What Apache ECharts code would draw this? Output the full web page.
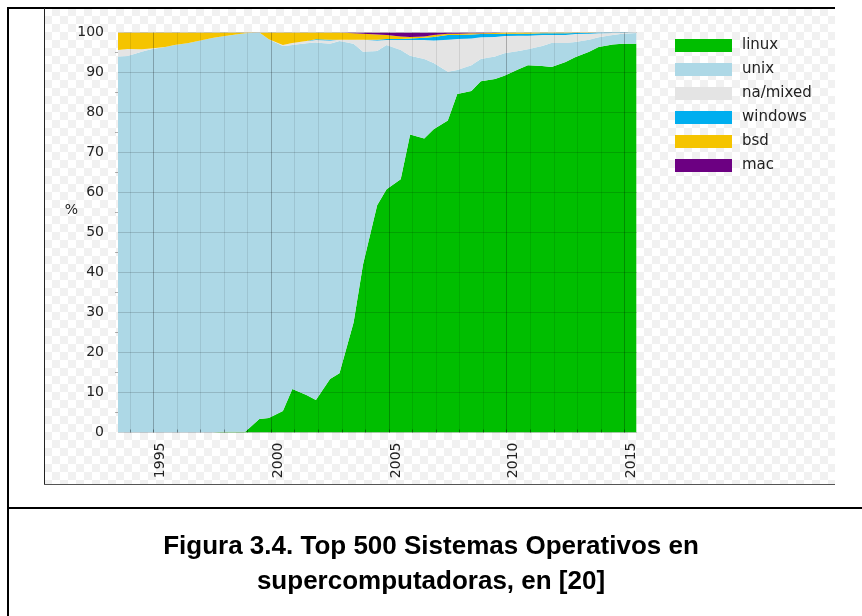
<!DOCTYPE html>
<html><head><meta charset="utf-8">
<script src="https://cdn.jsdelivr.net/npm/echarts@6/dist/echarts.min.js"></script>
<style>
html,body{margin:0;padding:0;background:#fff;}
#wrap{position:relative;width:862px;height:616px;overflow:hidden;}
#bg{position:absolute;left:44px;top:8px;width:791px;height:477px;
background-image:repeating-conic-gradient(#f1f1f1 0 25%, #ffffff 0 50%);background-size:16px 16px;}
.ln{position:absolute;background:#000;}
#chart{position:absolute;left:0;top:0;width:862px;height:616px;}
</style></head>
<body><div id="wrap">
<div id="bg"></div>
<div class="ln" style="left:7px;top:7px;width:828px;height:2px;"></div>
<div class="ln" style="left:7px;top:7px;width:2px;height:609px;"></div>
<div class="ln" style="left:44px;top:8px;width:1px;height:477px;background:#222;"></div>
<div class="ln" style="left:44px;top:484px;width:791px;height:1px;background:#555;"></div>
<div class="ln" style="left:7px;top:507px;width:855px;height:2px;"></div>
<div id="chart"></div>
</div>
<script>
const listDates = [1993.5,1993.9,1994.5,1994.9,1995.5,1995.9,1996.5,1996.9,1997.5,1997.9,
  1998.5,1998.9,1999.5,1999.9,2000.5,2000.9,2001.5,2001.9,2002.5,2002.9,
  2003.5,2003.9,2004.5,2004.9,2005.5,2005.9,2006.5,2006.9,2007.5,2007.9,
  2008.5,2008.9,2009.5,2009.9,2010.5,2010.9,2011.5,2011.9,2012.5,2012.9,
  2013.5,2013.9,2014.5,2014.9,2015.5];
const linux = [0,0,0,0,0,0,0,0,0,0.2,
  0.2,0.2,3.4,3.6,5.4,10.9,9.4,8.1,13.4,14.8,
  27.5,42,56.8,60.8,63.3,74.5,73.5,75.8,78,84.6,
  85.4,87.8,88.4,89.2,90.8,91.8,91.6,91.4,92.6,93.8,
  95.2,96.4,97,97.2,97.2];
const unix = [94.0,94.1,95.2,95.8,96.4,96.9,97.4,97.9,98.6,98.8,
  99.3,99.6,96.6,94.7,91.2,86.0,87.9,89.4,83.8,83.1,
  69.7,53.2,38.6,36.1,32.3,19.7,19.9,16.6,12.2,6.0,
  6.4,5.6,5.6,5.6,4.6,4.0,5.0,6.0,4.8,3.8,
  3.0,2.4,2.4,2.5,2.7];
const mixed = [1.6,1.8,0.6,0.2,0,0,0,0,0,0,
  0,0,0,0,0.3,0.5,0.6,0.6,0.8,0.3,
  1.0,3.0,2.6,1.2,2.5,3.9,4.7,5.6,8.0,7.8,
  6.7,5.4,4.9,4.3,3.8,3.4,2.8,2.0,2.0,2.0,
  1.5,1.0,0.5,0.2,0];
const windows = [0,0,0,0,0,0,0,0,0,0,
  0,0,0,0,0,0,0,0.2,0.2,0,
  0,0,0.2,0.3,0.3,0.4,0.6,0.9,1.2,1.0,
  1.0,0.8,0.7,0.6,0.5,0.5,0.4,0.4,0.4,0.3,
  0.2,0.2,0.1,0.1,0.1];
const bsd = [4.4,4.1,4.2,4.0,3.6,3.1,2.6,2.1,1.4,1.0,
  0.5,0.2,0,1.7,3.1,2.6,2.1,1.7,1.8,1.8,
  1.6,1.5,1.3,1.0,0.6,0.4,0.3,0.5,0.3,0.3,
  0.3,0.2,0.3,0.3,0.3,0.3,0.2,0.2,0.2,0.1,
  0.1,0,0,0,0];
const mac = [0,0,0,0,0,0,0,0,0,0,
  0,0,0,0,0,0,0,0,0,0,
  0.2,0.3,0.5,0.6,1.0,1.1,1.0,0.6,0.3,0.3,
  0.2,0.2,0.1,0,0,0,0,0,0,0,
  0,0,0,0,0];
const seriesNames = ['linux','unix','na/mixed','windows','bsd','mac'];
const seriesColors = ['#00be00','#add8e6','#e4e4e4','#00aeef','#f5c400','#6c0082'];
const yearTicks = [1994,1995,1996,1997,1998,1999,2000,2001,2002,2003,2004,2005,2006,2007,2008,2009,2010,2011,2012,2013,2014,2015];
const labelYears = [1995,2000,2005,2010,2015];
const yMin = 0, yMax = 100, yStep = 10;
const captionText = 'Figura 3.4. Top 500 Sistemas Operativos en\nsupercomputadoras, en [20]';

const allValues = [linux, unix, mixed, windows, bsd, mac];
// value first, date second, so that the library stacks the value dimension
const pairs = arr => arr.map((v, i) => [v, listDates[i]]);

const chart = echarts.init(document.getElementById('chart'), null, {renderer: 'canvas'});
chart.setOption({
  backgroundColor: 'transparent',
  animation: false,
  title: {
    text: captionText, left: 'center', top: 524,
    textStyle: {fontFamily: 'Liberation Sans', fontWeight: 'bold', fontSize: 26, lineHeight: 35, color: '#000'}
  },
  legend: {
    orient: 'vertical', left: 670, top: 33,
    data: seriesNames, icon: 'rect', itemWidth: 57, itemHeight: 13, itemGap: 9,
    textStyle: {fontFamily: 'DejaVu Sans', fontSize: 15, color: '#222', padding: [0,0,0,5]}
  },
  grid: {left: 118, right: 225, top: 32.5, bottom: 183.5},
  xAxis: [{
    type: 'value', min: 1993.5, max: 2015.53, z: 5,
    axisLine: {show: false},
    axisTick: {show: true, inside: true, length: 3, customValues: yearTicks, lineStyle: {color: 'rgba(0,0,0,0.35)'}},
    axisLabel: {customValues: labelYears, rotate: 90, margin: 10, fontFamily: 'DejaVu Sans', fontSize: 14, color: '#222',
      verticalAlign: 'top', formatter: v => String(v)},
    splitLine: {show: true, lineStyle: {color: 'rgba(0,0,0,0.09)', width: 1}}
  }, {
    type: 'value', min: 1993.5, max: 2015.53, z: 5, position: 'top',
    axisLine: {show: false},
    axisTick: {show: false, customValues: labelYears},
    axisLabel: {show: false},
    splitLine: {show: true, lineStyle: {color: 'rgba(0,0,0,0.18)', width: 1}}
  }],
  yAxis: {
    type: 'value', min: yMin, max: yMax, interval: yStep, z: 5,
    name: '%', nameLocation: 'middle', nameRotate: 0, nameGap: 40, nameMoveOverlap: false,
    nameTextStyle: {fontFamily: 'DejaVu Sans', fontSize: 14, color: '#222', verticalAlign: 'bottom', lineHeight: 44},
    axisLine: {show: false},
    axisTick: {show: false},
    minorTick: {show: true, splitNumber: 2, length: 3, lineStyle: {color: 'rgba(0,0,0,0.3)'}},
    axisLabel: {fontFamily: 'DejaVu Sans', fontSize: 14, color: '#222', margin: 14},
    splitLine: {show: true, lineStyle: {color: 'rgba(0,0,0,0.15)', width: 1}}
  },
  series: seriesNames.map((name, k) => ({
    name: name, type: 'line', stack: 'os', data: pairs(allValues[k]),
    encode: {x: 1, y: 0},
    symbol: 'none', color: seriesColors[k],
    lineStyle: {width: 0}, areaStyle: {color: seriesColors[k], opacity: 1}
  }))
});
</script></body></html>
